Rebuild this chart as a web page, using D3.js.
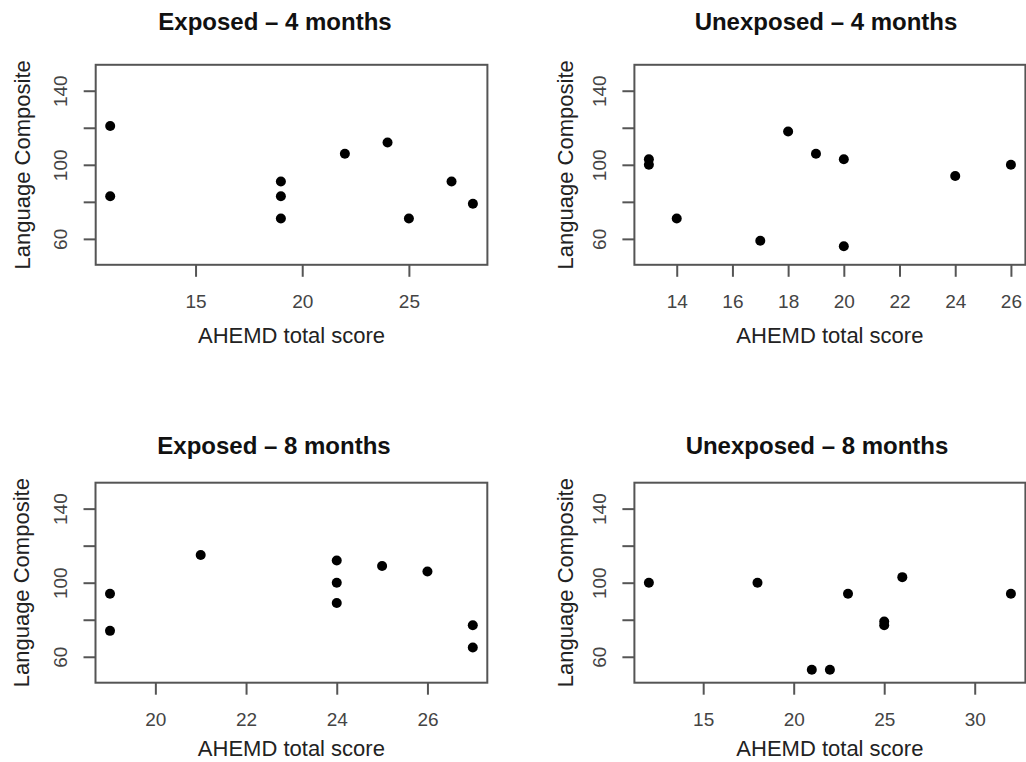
<!DOCTYPE html>
<html>
<head>
<meta charset="utf-8">
<script src="https://cdn.jsdelivr.net/npm/d3@7"></script>
<style>
	body { margin: 0; background: #fff; }
	text { font-family: "Liberation Sans", Arial, sans-serif; }
</style>
</head>
<body>
<script>
	// panel titles
	var titles = ['Exposed \u2013 4 months', 'Unexposed \u2013 4 months', 'Exposed \u2013 8 months', 'Unexposed \u2013 8 months'];

	// AHEMD total score (x) and Language Composite (y) for each group
	var exposed4X = [11, 11, 19, 19, 19, 22, 24, 25, 27, 28];
	var exposed4Y = [121, 83, 91, 83, 71, 106, 112, 71, 91, 79];

	var unexposed4X = [13, 13, 14, 17, 18, 19, 20, 20, 24, 26];
	var unexposed4Y = [103, 100, 71, 59, 118, 106, 103, 56, 94, 100];

	var exposed8X = [19, 19, 21, 24, 24, 24, 25, 26, 27, 27];
	var exposed8Y = [94, 74, 115, 112, 100, 89, 109, 106, 77, 65];

	var unexposed8X = [12, 18, 21, 22, 23, 25, 25, 26, 32];
	var unexposed8Y = [100, 100, 53, 53, 94, 79, 77, 103, 94];

	// tick values
	var xTicks = [[15, 20, 25], [14, 16, 18, 20, 22, 24, 26], [20, 22, 24, 26], [15, 20, 25, 30]];
	var yTicks = [60, 80, 100, 120, 140];
	var yTickLabels = [60, 100, 140];
	var yLimits = [50, 150];

	var xLabel = 'AHEMD total score';
	var yLabel = 'Language Composite';

	var xs = [exposed4X, unexposed4X, exposed8X, unexposed8X];
	var ys = [exposed4Y, unexposed4Y, exposed8Y, unexposed8Y];

	// layout of the four plot boxes
	var boxes = [
		{left: 95.7, top: 64.8, w: 391.7, h: 200, titleX: 275, titleY: 22, xlabY: 70, ylabX: 22},
		{left: 634.4, top: 64.8, w: 391, h: 200, titleX: 826, titleY: 22, xlabY: 70, ylabX: 565},
		{left: 95.5, top: 482.7, w: 391.8, h: 200, titleX: 274, titleY: 446, xlabY: 65.5, ylabX: 21},
		{left: 634.4, top: 482.7, w: 391, h: 200, titleX: 817, titleY: 446, xlabY: 65.5, ylabX: 565}
	];

	var svg = d3.select('body')
		.append('svg')
		.attr('width', 1026)
		.attr('height', 762);

	// R-style 4% padding of a range
	function pad(ext) {
		var d = (ext[1] - ext[0]) * 0.04;
		return [ext[0] - d, ext[1] + d];
	}

	boxes.forEach(function (b, i) {
		var data = xs[i].map(function (x, j) { return [x, ys[i][j]]; });

		var x = d3.scaleLinear()
			.domain(pad(d3.extent(xs[i])))
			.range([b.left, b.left + b.w]);
		var y = d3.scaleLinear()
			.domain(pad(yLimits))
			.range([b.top + b.h, b.top]);

		// title
		svg.append('text')
			.attr('x', b.titleX)
			.attr('y', b.titleY)
			.attr('dy', '0.35em')
			.attr('text-anchor', 'middle')
			.attr('font-size', '24px')
			.attr('font-weight', 'bold')
			.attr('fill', '#111')
			.text(titles[i]);

		// x axis
		var gx = svg.append('g')
			.attr('transform', 'translate(0,' + (b.top + b.h) + ')')
			.call(d3.axisBottom(x).tickValues(xTicks[i]).tickSize(12).tickFormat(d3.format('d')));
		gx.select('.domain').remove();
		gx.selectAll('line').attr('stroke', '#555').attr('stroke-width', 2);
		gx.selectAll('text')
			.attr('y', 37)
			.attr('dy', '0.35em')
			.attr('font-size', '19px')
			.attr('fill', '#444');

		// y axis
		var gy = svg.append('g')
			.attr('transform', 'translate(' + b.left + ',0)')
			.call(d3.axisLeft(y).tickValues(yTicks).tickSize(12)
				.tickFormat(function (d) { return yTickLabels.indexOf(d) >= 0 ? d : ''; }));
		gy.select('.domain').remove();
		gy.selectAll('line').attr('stroke', '#555').attr('stroke-width', 2);
		gy.selectAll('text')
			.attr('x', 0)
			.attr('y', 0)
			.attr('dy', '0.35em')
			.attr('transform', 'translate(-35,0) rotate(-90)')
			.attr('text-anchor', 'middle')
			.attr('font-size', '19px')
			.attr('fill', '#444');

		// box
		svg.append('rect')
			.attr('x', b.left)
			.attr('y', b.top)
			.attr('width', b.w)
			.attr('height', b.h)
			.attr('fill', 'none')
			.attr('stroke', '#555')
			.attr('stroke-width', 2);

		// axis titles
		svg.append('text')
			.attr('x', b.left + b.w / 2)
			.attr('y', b.top + b.h + b.xlabY)
			.attr('dy', '0.35em')
			.attr('text-anchor', 'middle')
			.attr('font-size', '22px')
			.attr('fill', '#222')
			.text(xLabel);

		svg.append('text')
			.attr('transform', 'translate(' + b.ylabX + ',' + (b.top + b.h / 2) + ') rotate(-90)')
			.attr('dy', '0.35em')
			.attr('text-anchor', 'middle')
			.attr('font-size', '22px')
			.attr('fill', '#222')
			.text(yLabel);

		// points
		svg.append('g')
			.selectAll('circle')
			.data(data)
			.enter()
			.append('circle')
			.attr('cx', function (d) { return x(d[0]); })
			.attr('cy', function (d) { return y(d[1]); })
			.attr('r', 5)
			.attr('fill', '#000');
	});
</script>
</body>
</html>
